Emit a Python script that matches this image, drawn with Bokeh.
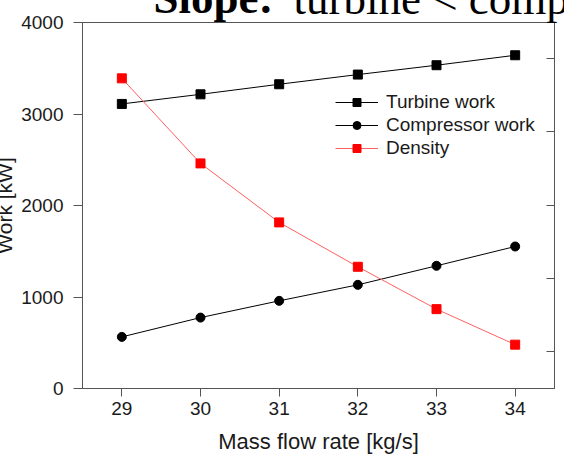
from bokeh.plotting import figure
from bokeh.models import Range1d, LinearAxis, FixedTicker, Legend, LegendItem, Label
from bokeh.embed import file_html
from bokeh.resources import INLINE

mass_flow = [29, 30, 31, 32, 33, 34]
turbine_work = [3110, 3215, 3325, 3431, 3533, 3642]
compressor_work = [564, 775, 958, 1133, 1341, 1552]
density = [472.9, 357.0, 276.6, 216.1, 158.4, 110.0]
x_ticks = [29, 30, 31, 32, 33, 34]
work_ticks = [0, 1000, 2000, 3000, 4000]
density_ticks = [100, 200, 300, 400, 500]

FONT = "Liberation Sans"
SERIF = "Liberation Serif"
AXC = "#555555"
TXT = "#1a1a1a"
DX, DY = 10, 80  # the source is cropped at its left and top edges

p = figure(width=564 + DX, height=456 + DY, output_backend="svg",
           toolbar_location=None,
           x_range=Range1d(28.5, 34.5), y_range=Range1d(0, 4000),
           min_border_left=82 + DX, min_border_right=10,
           min_border_top=22 + DY, min_border_bottom=68,
           margin=(-DY, 0, 0, -DX))
p.extra_y_ranges = {"density": Range1d(50.25, 549.0)}
p.grid.visible = False
p.outline_line_color = AXC
p.outline_line_width = 1

xa = p.xaxis[0]
xa.ticker = FixedTicker(ticks=x_ticks)
xa.axis_label = "Mass flow rate [kg/s]"
xa.axis_label_text_font = FONT
xa.axis_label_text_font_size = "22px"
xa.axis_label_text_font_style = "normal"
xa.axis_label_text_color = TXT
xa.axis_label_standoff = 11
xa.major_label_text_font = FONT
xa.major_label_text_font_size = "19px"
xa.major_label_text_color = TXT
xa.major_label_standoff = 5
xa.major_tick_out = 8
xa.major_tick_in = 0
xa.minor_tick_line_color = None
xa.axis_line_color = AXC
xa.major_tick_line_color = AXC

ya = p.yaxis[0]
ya.ticker = FixedTicker(ticks=work_ticks)
ya.axis_label = "Work [kW]"
ya.axis_label_text_font = FONT
ya.axis_label_text_font_size = "21px"
ya.axis_label_text_font_style = "normal"
ya.axis_label_text_color = TXT
ya.axis_label_standoff = 2
ya.major_label_text_font = FONT
ya.major_label_text_font_size = "19px"
ya.major_label_text_color = TXT
ya.major_label_standoff = 10
ya.major_tick_out = 9
ya.major_tick_in = 0
ya.minor_tick_line_color = None
ya.axis_line_color = AXC
ya.major_tick_line_color = AXC

ra = LinearAxis(y_range_name="density", ticker=FixedTicker(ticks=density_ticks))
ra.major_tick_in = 8
ra.major_tick_out = 0
ra.minor_tick_line_color = None
ra.axis_line_color = AXC
ra.major_tick_line_color = AXC
ra.major_label_overrides = {t: "" for t in density_ticks}
ra.major_label_standoff = 0
p.add_layout(ra, "right")

# series
l_t = p.line(mass_flow, turbine_work, line_color="black", line_width=1)
s_t = p.scatter(mass_flow, turbine_work, marker="square", size=9,
                fill_color="black", line_color="black")
l_c = p.line(mass_flow, compressor_work, line_color="black", line_width=1)
s_c = p.scatter(mass_flow, compressor_work, marker="circle", size=9,
                fill_color="black", line_color="black")
l_d = p.line(mass_flow, density, line_color="#ff6060", line_width=1,
             y_range_name="density")
s_d = p.scatter(mass_flow, density, marker="square", size=9,
                fill_color="#ff0000", line_color="#ff0000", y_range_name="density")

legend = Legend(items=[
    LegendItem(label="Turbine work", renderers=[l_t, s_t]),
    LegendItem(label="Compressor work", renderers=[l_c, s_c]),
    LegendItem(label="Density", renderers=[l_d, s_d]),
], location=(253, 229))
legend.border_line_color = None
legend.background_fill_alpha = 0
legend.padding = 0
legend.margin = 0
legend.spacing = 1
legend.glyph_width = 43
legend.glyph_height = 20
legend.label_height = 20
legend.label_standoff = 8
legend.label_text_font = FONT
legend.label_text_font_size = "19px"
legend.label_text_color = TXT
p.add_layout(legend)

# title, cut at the top edge as in the source
p.add_layout(Label(x=191, y=25, x_units="screen", y_units="screen",
                   text="Slope:", text_align="right", text_baseline="alphabetic",
                   text_font=SERIF, text_font_style="bold",
                   text_font_size="45px", text_color="black"), "above")
p.add_layout(Label(x=211, y=-26, x_units="screen", y_units="screen",
                   text="turbine < compressor", text_align="left",
                   text_baseline="alphabetic", text_font=SERIF,
                   text_font_size="45px", text_color="black"), "above")

open("out.html", "w").write(file_html(p, INLINE))
